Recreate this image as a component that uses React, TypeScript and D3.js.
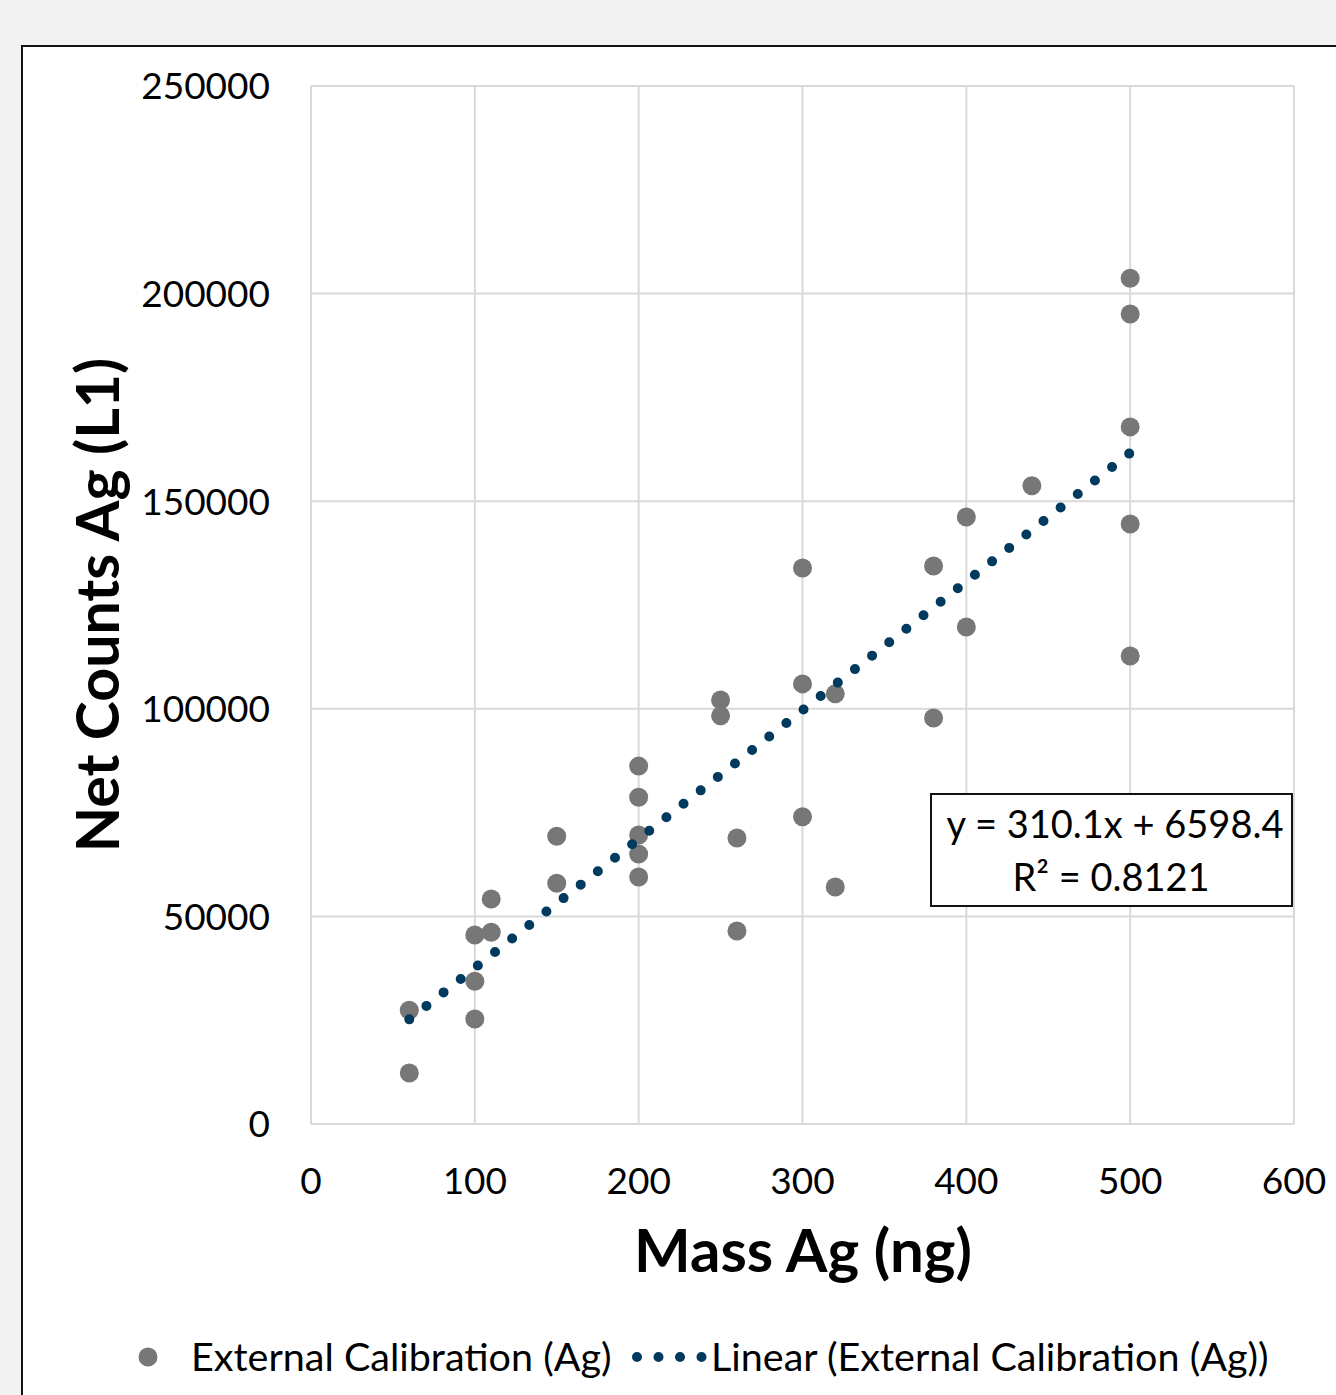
import React from "react";
import * as d3 from "d3";

const massAg = [60, 60, 100, 100, 100, 110, 110, 150, 150, 200, 200, 200, 200, 200, 250, 250, 260, 260, 300, 300, 300, 320, 320, 380, 380, 400, 400, 440, 500, 500, 500, 500, 500];
const netCounts = [27400, 12300, 45500, 34400, 25300, 54200, 46200, 69300, 58000, 86200, 78700, 69600, 65000, 59500, 102100, 98300, 68900, 46500, 133900, 106000, 74000, 103600, 57100, 134400, 97800, 146200, 119700, 153700, 203700, 195100, 167900, 144500, 112700];
const xTicks = [0, 100, 200, 300, 400, 500, 600];
const yTicks = [0, 50000, 100000, 150000, 200000, 250000];
const slope = 310.1;
const intercept = 6598.4;
const rSquared = 0.8121;
const trendRange = [60, 500];

const FONT = "Lato, 'Open Sans', sans-serif";

export default function App() {
  const W = 1336, H = 1395;
  const left = 311, right = 1294, top = 86, bottom = 1124;
  const x = d3.scaleLinear().domain([0, 600]).range([left, right]);
  const y = d3.scaleLinear().domain([0, 250000]).range([bottom, top]);
  const line = d3.line<number>().x(d => x(d)).y(d => y(slope * d + intercept));
  const grid = "#d9d9d9";
  const grey = "#777777";
  const blue = "#003a5e";

  return (
    <svg width={W} height={H} style={{ position: "absolute", left: 0, top: 0 }} fontFamily={FONT}>
      <rect x={0} y={0} width={W} height={H} fill="#f2f2f2" />
      <rect x={22} y={46} width={W} height={H} fill="#ffffff" stroke="#111" strokeWidth={2} />
      {xTicks.map(t => (
        <line key={"gx" + t} x1={x(t)} x2={x(t)} y1={top} y2={bottom} stroke={grid} strokeWidth={2} />
      ))}
      {yTicks.map(t => (
        <line key={"gy" + t} x1={left} x2={right} y1={y(t)} y2={y(t)} stroke={grid} strokeWidth={2} />
      ))}
      {yTicks.map(t => (
        <text key={"ty" + t} x={270} y={y(t)} dy="0.36em" textAnchor="end" fontSize={37} fill="#000">{t}</text>
      ))}
      {xTicks.map(t => (
        <text key={"tx" + t} x={x(t)} y={1194} textAnchor="middle" fontSize={37} fill="#000">{t}</text>
      ))}
      {massAg.map((m, i) => (
        <circle key={"p" + i} cx={x(m)} cy={y(netCounts[i])} r={9.5} fill={grey} />
      ))}
      <path d={line(trendRange) || ""} fill="none" stroke={blue} strokeWidth={10} strokeLinecap="round" strokeDasharray="0 21.8" />
      <rect x={931} y={794} width={361} height={112} fill="#fff" stroke="#111" strokeWidth={2} />
      <text x={1115} y={838} textAnchor="middle" fontSize={38} fill="#000">{`y = ${slope}x + ${intercept}`}</text>
      <text x={1111} y={891} textAnchor="middle" fontSize={38} fill="#000">{`R² = ${rSquared}`}</text>
      <text x={803} y={1272} textAnchor="middle" fontSize={60} fontWeight="bold" fill="#000">Mass Ag (ng)</text>
      <text transform="translate(119,605) rotate(-90)" textAnchor="middle" fontSize={59} fontWeight="bold" fill="#000">Net Counts Ag (L1)</text>
      <circle cx={148} cy={1357} r={9.5} fill={grey} />
      <text x={191} y={1371} fontSize={39.5} fill="#000">External Calibration (Ag)</text>
      <line x1={637} x2={703} y1={1357} y2={1357} stroke={blue} strokeWidth={10} strokeLinecap="round" strokeDasharray="0 21.5" />
      <text x={711} y={1371} fontSize={39.5} fill="#000">Linear (External Calibration (Ag))</text>
    </svg>
  );
}
